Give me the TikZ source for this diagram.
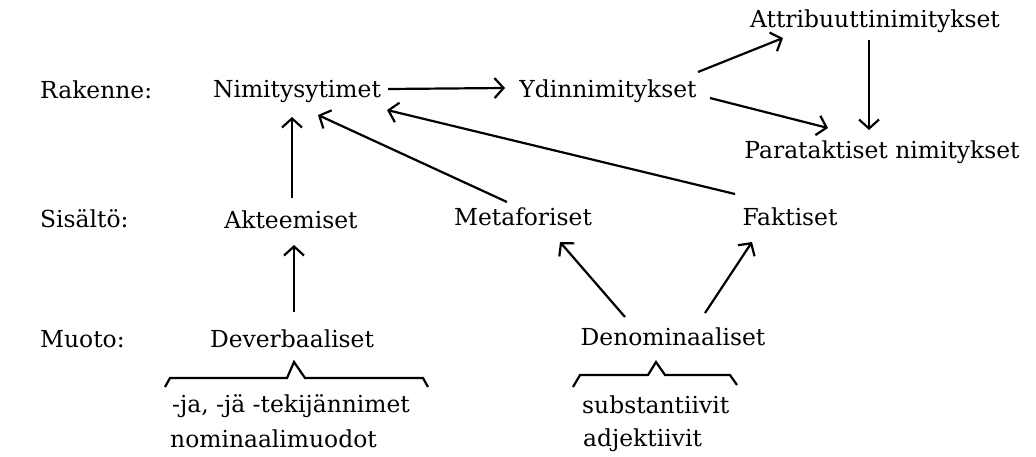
\documentclass[tikz,border=0pt]{standalone}
\usepackage{fontspec}
\setmainfont{DejaVu Serif}
\usetikzlibrary{arrows.meta}
\begin{document}
\begin{tikzpicture}[x=1pt,y=-1pt,
  lbl/.style={inner sep=0pt,anchor=base,font=\fontsize{23.4}{28}\selectfont},
  lblw/.style={inner sep=0pt,anchor=base west,font=\fontsize{23.4}{28}\selectfont},
  arr/.style={line width=2.2pt,-{Straight Barb[length=9pt,width=20pt,line width=2.2pt]}},
  brace/.style={line width=2.2pt,line join=miter}]
\useasboundingbox (0,0) rectangle (1036,456);
% row labels
\node[lblw] (rak) at (40,98) {Rakenne:};
\node[lblw] (sis) at (40,227) {Sisältö:};
\node[lblw] (muo) at (40,347) {Muoto:};
% nodes
\node[lbl] (nim) at (297,97) {Nimitysytimet};
\node[lbl] (ydin) at (608,97) {Ydinnimitykset};
\node[lbl] (attr) at (875,27) {Attribuuttinimitykset};
\node[lbl] (para) at (882,158) {Parataktiset nimitykset};
\node[lbl] (akt) at (291,228) {Akteemiset};
\node[lbl] (met) at (523,225) {Metaforiset};
\node[lbl] (fak) at (790,225) {Faktiset};
\node[lbl] (dev) at (292,347) {Deverbaaliset};
\node[lbl] (den) at (673,345) {Denominaaliset};
% lists
\node[lblw] (t1) at (172,412) {-ja, -jä -tekijännimet};
\node[lblw] (t2) at (170,447) {nominaalimuodot};
\node[lblw] (t3) at (582,413) {substantiivit};
\node[lblw] (t4) at (583,446) {adjektiivit};
% braces
\draw[brace] (165,387) -- (170,378) -- (287,378) -- (294,362) -- (305,378) -- (423,378) -- (428,387);
\draw[brace] (573,387) -- (580,375) -- (648,375) -- (656,362) -- (665,375) -- (730,375) -- (737,385);
% arrows
\draw[arr] ([shift={(91,-8)}]nim.base) -- ([shift={(-103,-9)}]ydin.base);
\draw[arr] ([shift={(90,-25)}]ydin.base) -- ([shift={(-92,11)}]attr.base);
\draw[arr] ([shift={(102,1)}]ydin.base) -- ([shift={(-54,-30)}]para.base);
\draw[arr] ([shift={(-6,13)}]attr.base) -- ([shift={(-13,-28)}]para.base);
\draw[arr] ([shift={(1,-30)}]akt.base) -- ([shift={(-5,20)}]nim.base);
\draw[arr] ([shift={(-16,-23)}]met.base) -- ([shift={(21,18)}]nim.base);
\draw[arr] ([shift={(-55,-31)}]fak.base) -- ([shift={(90,13)}]nim.base);
\draw[arr] ([shift={(2,-35)}]dev.base) -- ([shift={(3,17)}]akt.base);
\draw[arr] ([shift={(-48,-28)}]den.base) -- ([shift={(37,17)}]met.base);
\draw[arr] ([shift={(32,-32)}]den.base) -- ([shift={(-38,17)}]fak.base);
\end{tikzpicture}
\end{document}
